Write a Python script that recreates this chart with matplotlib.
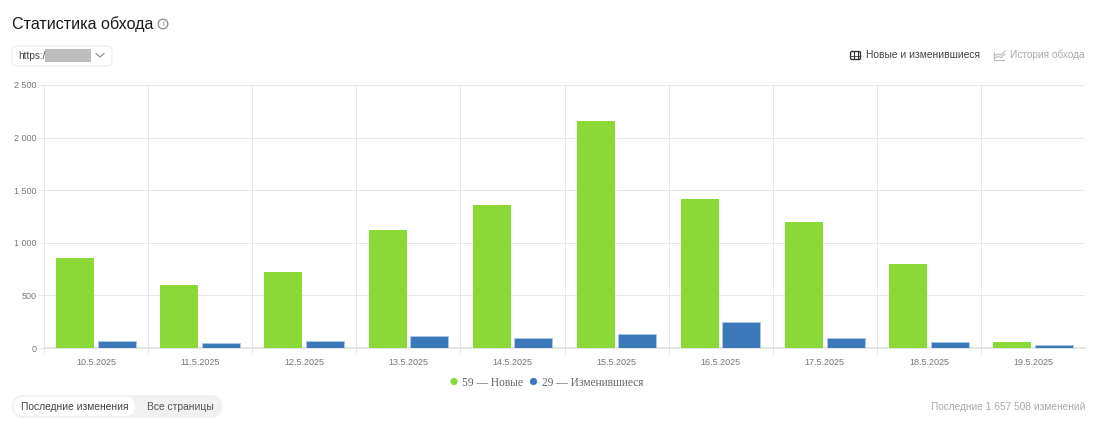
import numpy as np
import matplotlib
matplotlib.use('Agg')
import matplotlib.pyplot as plt
from matplotlib.patches import FancyBboxPatch, Rectangle, Circle

dates = ['10.5.2025', '11.5.2025', '12.5.2025', '13.5.2025', '14.5.2025',
         '15.5.2025', '16.5.2025', '17.5.2025', '18.5.2025', '19.5.2025']
new_pages = [860, 600, 725, 1125, 1360, 2155, 1415, 1200, 795, 59]
changed_pages = [65, 45, 62, 110, 95, 130, 245, 97, 55, 29]
y_ticks = [0, 500, 1000, 1500, 2000, 2500]
y_labels = ['0', '500', '1 000', '1 500', '2 000', '2 500']

W, H = 1100, 428
GREEN = '#8ad936'
BLUE = '#3a78b9'
GRID = '#e8e8e8'
SANS = 'Liberation Sans'
SERIF = 'Liberation Serif'

plt.rcParams['font.family'] = [SANS, 'DejaVu Sans']

fig = plt.figure(figsize=(W/100, H/100), dpi=100)

# график, границы в пикселях
left, right, top, bottom = 44, 1085, 85, 348
ax = fig.add_axes([left/W, 1-bottom/H, (right-left)/W, (bottom-top)/H])
x = np.arange(len(dates))
ax.bar(x-0.2, new_pages, width=0.365, color=GREEN, zorder=3)
ax.bar(x+0.2, changed_pages, width=0.365, color=BLUE, edgecolor='#a9c6e6', linewidth=0.7, zorder=3)
ax.set_xlim(-0.5, len(dates)-0.5)
ax.set_ylim(0, 2500)
ax.set_yticks(y_ticks)
ax.set_yticklabels(y_labels, fontsize=6.5, color='#777777')
ax.set_xticks(x)
ax.set_xticklabels(dates, fontsize=6.5, color='#777777')
ax.tick_params(axis='x', length=0, pad=7.5)
ax.tick_params(axis='y', length=4.5, width=0.72, color=GRID, pad=1)
ax.grid(axis='y', color=GRID, linewidth=0.72, zorder=0)
for s in ['top', 'right', 'left']:
    ax.spines[s].set_visible(False)
ax.spines['bottom'].set_color('#dddddd')
ax.spines['bottom'].set_linewidth(1.1)
for b in np.arange(len(dates))-0.5:
    ax.plot([b, b], [-0.023, 1], transform=ax.get_xaxis_transform(), color=GRID, linewidth=0.72,
            clip_on=False, zorder=1)

# остальной интерфейс поверх, координаты в пикселях
ui = fig.add_axes([0, 0, 1, 1])
ui.set_xlim(0, W)
ui.set_ylim(H, 0)
ui.axis('off')
ui.patch.set_alpha(0)

ui.text(12, 24, 'Статистика обхода', fontsize=11.6, color='#1a1a1a', va='center')
ui.add_patch(Circle((163, 24), 4.8, fill=False, ec='#888888', lw=0.9))
ui.text(163, 24.3, 'i', fontsize=5.5, color='#777777', ha='center', va='center')

ui.add_patch(FancyBboxPatch((15, 49), 94, 14, boxstyle='round,pad=3,rounding_size=5',
                            fc='white', ec='#ececec', lw=0.8))
ui.text(18, 55.5, 'https:/', fontsize=7.2, color='#444444', va='center')
ui.add_patch(Rectangle((45, 49), 46, 13, fc='#bdbdbd', ec='none'))
ui.plot([96, 100, 104], [53.5, 57, 53.5], color='#888888', lw=0.8)

# значок таблицы
ui.add_patch(FancyBboxPatch((851, 52), 9, 7, boxstyle='round,pad=0.5,rounding_size=1.5',
                            fc='white', ec='#333333', lw=1.0))
ui.plot([854, 854], [52, 59], color='#333333', lw=0.8)
ui.plot([857.5, 857.5], [52, 59], color='#333333', lw=0.8)
ui.plot([851, 860], [55.5, 55.5], color='#333333', lw=0.6)
ui.text(866, 55, 'Новые и изменившиеся', fontsize=7.35, color='#444444', va='center')

# значок истории
ui.plot([994, 994, 1004], [52, 60, 60], color='#bbbbbb', lw=0.8)
ui.plot([994, 998, 1001, 1005], [56, 54, 55, 51], color='#bbbbbb', lw=0.8)
ui.plot([994, 998, 1001, 1005], [58.5, 56.5, 57.5, 54], color='#bbbbbb', lw=0.8)
ui.text(1010, 55, 'История обхода', fontsize=7.3, color='#aaaaaa', va='center')

# легенда
ui.add_patch(Circle((454, 381.5), 3.6, fc=GREEN, ec='none'))
ui.text(462, 382.5, f'{new_pages[-1]} — Новые', fontsize=8.3, color='#666666',
        family=SERIF, va='center')
ui.add_patch(Circle((533.5, 381.5), 3.6, fc=BLUE, ec='none'))
ui.text(541.5, 382.5, f'{changed_pages[-1]} — Изменившиеся', fontsize=8.3, color='#666666',
        family=SERIF, va='center')

# переключатель
ui.add_patch(FancyBboxPatch((12, 395), 210, 23, boxstyle='round,pad=0,rounding_size=11.5',
                            fc='#f1f1f1', ec='none'))
ui.add_patch(FancyBboxPatch((14, 397), 121, 19, boxstyle='round,pad=0,rounding_size=9.5',
                            fc='white', ec='none'))
ui.text(21, 406.5, 'Последние изменения', fontsize=7.35, color='#444444', va='center')
ui.text(147, 406.5, 'Все страницы', fontsize=7.35, color='#555555', va='center')

ui.text(1085, 406.5, 'Последние 1 657 508 изменений', fontsize=7.25, color='#aaaaaa',
        ha='right', va='center')

fig.savefig('out.png', dpi=100)
